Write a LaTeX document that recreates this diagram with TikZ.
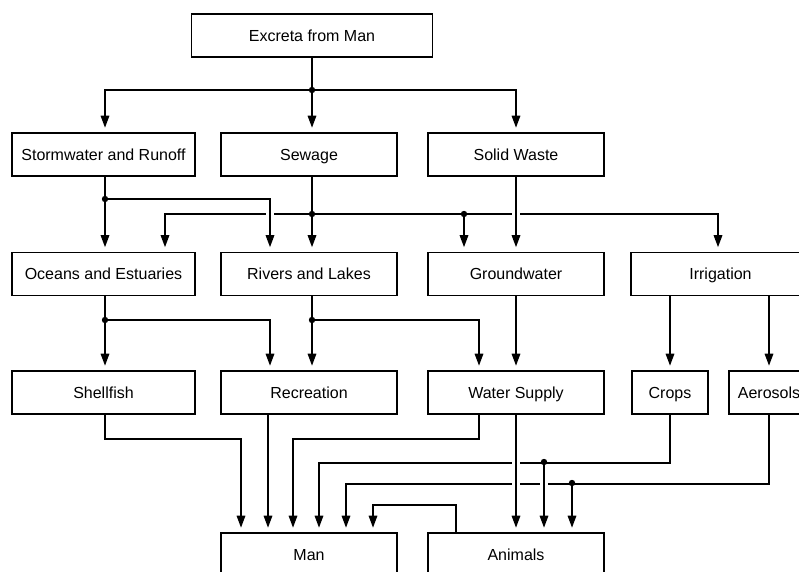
\documentclass[tikz,border=0pt]{standalone}
\usepackage{fontspec}
\setmainfont{Liberation Sans}
\usetikzlibrary{arrows.meta}
\begin{document}
\begin{tikzpicture}[x=1pt,y=-1pt,
  box/.style={draw, line width=1.6pt, minimum height=43pt, inner sep=0pt,
    text height=11.5pt, text depth=0pt,
    font=\fontsize{16}{19}\selectfont},
  wA/.style={minimum width=183pt},
  wB/.style={minimum width=176pt},
  conn/.style={line width=1.6pt},
  arr/.style={conn, -{Triangle[length=12pt,width=8.5pt]}, shorten >=4.5pt},
  dot/.style={fill=black},
  gap/.style={fill=white}]
\useasboundingbox (0,0) rectangle (799,571);
\clip (0,0) rectangle (799,571);
\fill[white] (0,0) rectangle (799,571);

% nodes
\node[box, minimum width=241pt] (ex) at (312,35.5) {Excreta from Man};
\node[box, wA] (sw)  at (103.5,154.5) {Stormwater and Runoff};
\node[box, wB] (sew) at (309,154.5) {Sewage};
\node[box, wB] (sol) at (516,154.5) {Solid Waste};
\node[box, wA] (oe)  at (103.5,274) {Oceans and Estuaries};
\node[box, wB] (rl)  at (309,274) {Rivers and Lakes};
\node[box, wB] (gw)  at (516,274) {Groundwater};
\node[box, minimum width=179pt] (irr) at (720.5,274) {Irrigation};
\node[box, wA] (sh)  at (103.5,392.5) {Shellfish};
\node[box, wB] (rec) at (309,392.5) {Recreation};
\node[box, wB] (ws)  at (516,392.5) {Water Supply};
\node[box, minimum width=76pt] (cr)  at (670,392.5) {Crops};
\node[box, minimum width=80pt] (aer) at (769,392.5) {Aerosols};
\node[box, wB] (man) at (309,554.5) {Man};
\node[box, wB] (ani) at (516,554.5) {Animals};

% junctions
\coordinate (j0) at (312,90);
\coordinate (j1) at (105,199);
\coordinate (j2) at (312,214);
\coordinate (j3) at (464,214);
\coordinate (j4) at (105,320);
\coordinate (j5) at (312,320);
\coordinate (j6) at (544,462);
\coordinate (j7) at (572,483);

% Excreta
\draw[conn] (ex.south) -- (j0);
\draw[arr] (j0) -| ([xshift=1.5pt]sw.north);
\draw[arr] (j0) -- ([xshift=3pt]sew.north);
\draw[arr] (j0) -| (sol.north);

% row 2 -> row 3
\draw[arr] ([xshift=1.5pt]sw.south) -- ([xshift=1.5pt]oe.north);
\draw[arr] ([xshift=3pt]sew.south) -- ([xshift=3pt]rl.north);
\draw[arr] (j2) -| ([xshift=61.5pt]oe.north);
\draw[arr] (j2) -| ([xshift=-2.5pt]irr.north);
\draw[arr] (j3) -- ([xshift=-52pt]gw.north);
\fill[gap] (266,211) rectangle (274,217);
\fill[gap] (512,211) rectangle (520,217);
\draw[arr] (j1) -| ([xshift=-39pt]rl.north);
\draw[arr] (sol) -- (gw);

% row 3 -> row 4
\draw[arr] ([xshift=1.5pt]oe.south) -- ([xshift=1.5pt]sh.north);
\draw[arr] (j4) -| ([xshift=-39pt]rec.north);
\draw[arr] ([xshift=3pt]rl.south) -- ([xshift=3pt]rec.north);
\draw[arr] (j5) -| ([xshift=-37pt]ws.north);
\draw[arr] (gw) -- (ws);
\draw[arr] ([xshift=-50.5pt]irr.south) -- (cr.north);
\draw[arr] ([xshift=48.5pt]irr.south) -- (aer.north);

% row 4 -> bottom
\draw[arr] ([xshift=1.5pt]sh.south) -- ++(0,24) -| ([xshift=-68pt]man.north);
\draw[arr] ([xshift=-41pt]rec.south) -- ([xshift=-41pt]man.north);
\draw[arr] ([xshift=-37pt]ws.south) -- ++(0,24) -| ([xshift=-16pt]man.north);
\draw[arr] (cr.south) -- ++(0,48) -| ([xshift=10pt]man.north);
\draw[arr] (aer.south) -- ++(0,69) -| ([xshift=37pt]man.north);
\fill[gap] (512,459) rectangle (520,465);
\fill[gap] (512,480) rectangle (520,486);
\fill[gap] (540,480) rectangle (548,486);
\draw[arr] (ws) -- (ani);
\draw[arr] (j6) -- ([xshift=28pt]ani.north);
\draw[arr] (j7) -- ([xshift=56pt]ani.north);
\draw[arr] ([xshift=-60pt]ani.north) -- ++(0,-27) -| ([xshift=64pt]man.north);

% dots
\foreach \j in {j0,j1,j2,j3,j4,j5,j6,j7} \fill[dot] (\j) circle (3.2pt);
\end{tikzpicture}
\end{document}
